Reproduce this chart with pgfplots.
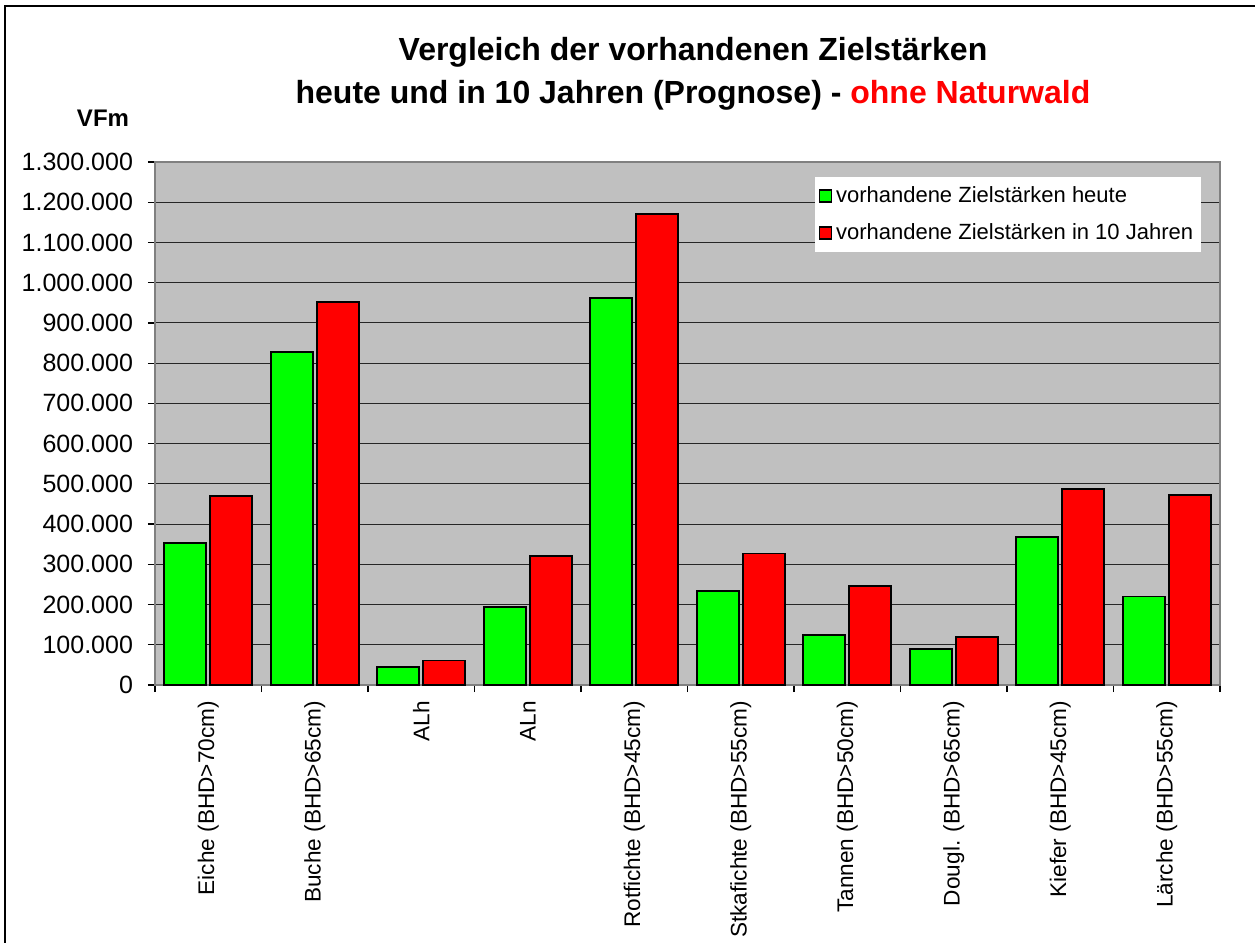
\documentclass[border=0pt]{standalone}
\usepackage{fontspec}
\setmainfont{Liberation Sans}
\usepackage{xcolor}
\usepackage{pgfplots}
\usepackage{pgfplotstable}
\pgfplotsset{compat=1.18}

\definecolor{plotbg}{HTML}{C0C0C0}
\definecolor{barGreen}{HTML}{00FF00}
\definecolor{barRed}{HTML}{FF0000}
\definecolor{frameGray}{HTML}{808080}

\pgfplotstableread{
idx heute zehn
0 353000 470000
1 827000 953000
2 45000 61000
3 193000 320000
4 962000 1171000
5 234000 327000
6 124000 247000
7 89000 119000
8 368000 488000
9 220000 472000
}\zielstaerken

\begin{document}
\begin{tikzpicture}
\useasboundingbox (-77.5pt,-129pt) rectangle (550pt,342.5pt);
\draw[line width=0.8pt] (-75pt,-130pt) -- (-75pt,339.5pt) -- (551pt,339.5pt);

\begin{axis}[
    at={(0pt,0pt)}, anchor=south west,
    scale only axis,
    width=532.5pt, height=261.5pt,
    ybar, bar width=21pt,
    xmin=-0.5, xmax=9.5,
    ymin=0, ymax=1300000,
    ytick distance=100000,
    scaled y ticks=false,
    xtick={-0.5,0.5,...,9.5},
    x tick label as interval,
    xticklabels={Eiche (BHD>70cm),Buche (BHD>65cm),ALh,ALn,Rotfichte (BHD>45cm),Stkafichte (BHD>55cm),Tannen (BHD>50cm),Dougl. (BHD>65cm),Kiefer (BHD>45cm),Lärche (BHD>55cm)},
    xticklabel style={rotate=90, anchor=east, font=\fontsize{11.3}{13}\selectfont, xshift=-1pt},
    yticklabel style={font=\fontsize{12.5}{14}\selectfont, xshift=-4pt},
    /pgf/number format/.cd, fixed, 1000 sep={.}, assume math mode=true,
    /pgfplots/.cd,
    tick align=outside,
    major tick length=3.5pt,
    xtick pos=bottom, ytick pos=left,
    tick style={black, line width=0.6pt},
    axis background/.style={fill=plotbg},
    axis line style={frameGray, line width=1pt},
    ymajorgrids,
    grid style={black!85, line width=0.5pt},
    legend style={at={(0.619,0.973)}, anchor=north west, draw=none, fill=white,
        font=\fontsize{11}{13}\selectfont, inner xsep=2pt, inner ysep=3pt,
        row sep=5pt, /tikz/every even column/.append style={column sep=0pt}},
    legend cell align=left,
    legend image code/.code={\draw[#1, line width=0.7pt, bar shift=0pt] (0pt,-3pt) rectangle (6pt,3pt);},
]
\addplot[fill=barGreen, draw=black, line width=0.9pt] table[x=idx, y=heute] {\zielstaerken};
\addlegendentry{vorhandene Zielstärken heute}
\addplot[fill=barRed, draw=black, line width=0.9pt] table[x=idx, y=zehn] {\zielstaerken};
\addlegendentry{vorhandene Zielstärken in 10 Jahren}
\end{axis}

\node[font=\bfseries\fontsize{16}{19}\selectfont] at (269pt,316.5pt) {Vergleich der vorhandenen Zielstärken};
\node[font=\bfseries\fontsize{16}{19}\selectfont] at (269pt,295pt) {heute und in 10 Jahren (Prognose) - \textcolor{red}{ohne Naturwald}};
\node[font=\bfseries\fontsize{12}{14}\selectfont] at (-26pt,283.5pt) {VFm};
\end{tikzpicture}
\end{document}
